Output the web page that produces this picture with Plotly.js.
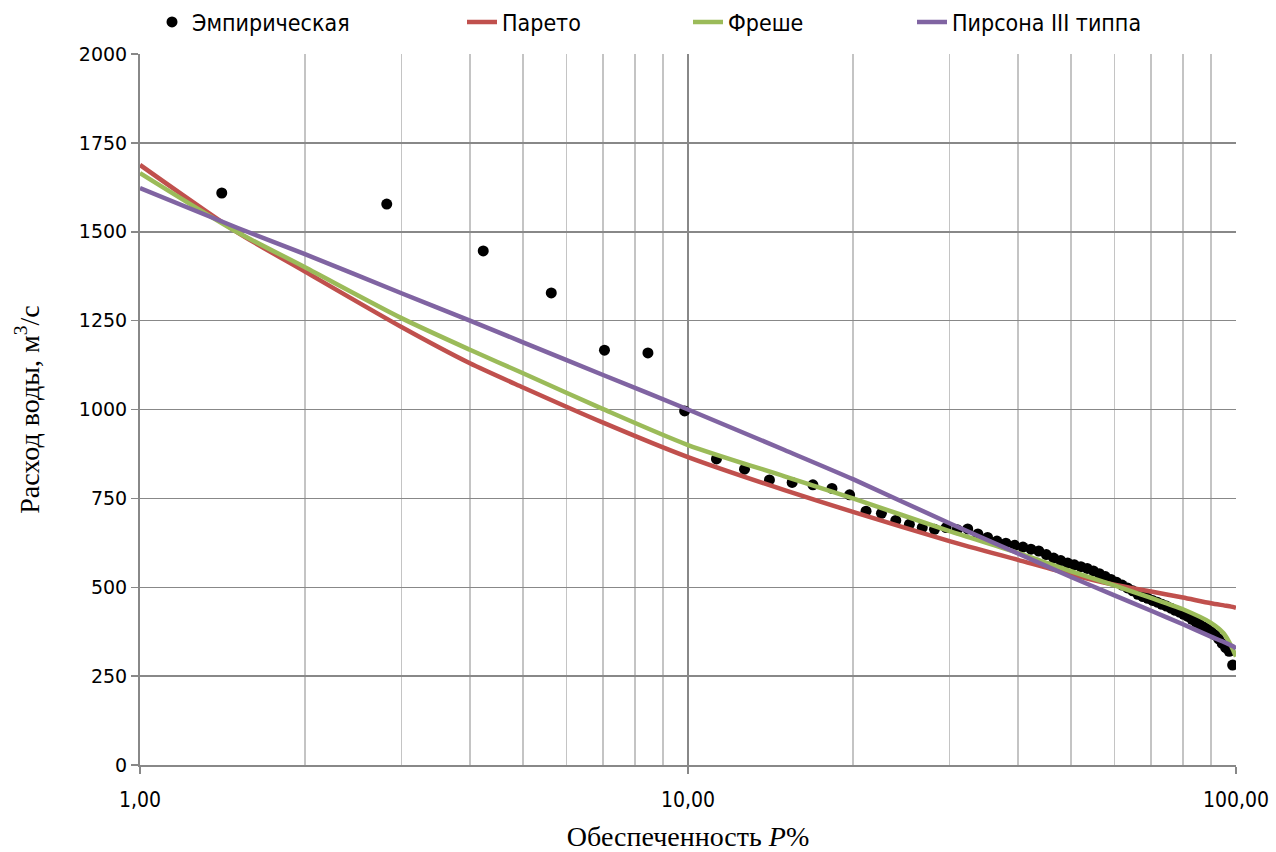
<!DOCTYPE html>
<html>
<head>
<meta charset="utf-8">
<script src="https://cdn.plot.ly/plotly-3.0.1.min.js"></script>
<style>html,body{margin:0;padding:0;background:#fff;}#chart{width:1276px;height:852px;}</style>
</head>
<body>
<div id="chart"></div>
<script>
// Empirical exceedance probability P% and discharge Q (m3/s)
const empP = [1.41,2.82,4.23,5.63,7.04,8.45,9.86,11.27,12.68,14.08,15.49,16.90,18.31,19.72,21.13,22.54,23.94,25.35,26.76,28.17,29.58,30.99,32.39,33.80,35.21,36.62,38.03,39.44,40.85,42.25,43.66,45.07,46.48,47.89,49.30,50.70,52.11,53.52,54.93,56.34,57.75,59.15,60.56,61.97,63.38,64.79,66.20,67.61,69.01,70.42,71.83,73.24,74.65,76.06,77.46,78.87,80.28,81.69,83.10,84.51,85.92,87.32,88.73,90.14,91.55,92.96,94.37,95.77,97.18,98.59];
const empQ = [1609,1578,1446,1328,1167,1159,996,861,832,802,795,788,778,760,714,708,688,677,668,663,668,662,664,650,640,630,624,618,613,607,602,592,582,575,568,563,558,553,546,538,530,522,514,506,498,490,480,474,469,463,458,452,447,441,435,430,424,418,410,402,395,388,382,375,366,355,342,330,320,281];

// Theoretical curves sampled at these P%
const curveP = [1,1.5,2,3,4,5,7,10,15,20,30,40,50,60,70,80,90,95,98,99,100];
const paretoQ  = [1688,1500,1388,1232,1130,1062,963,866,773,712,630,577,536,507,488,471,455,449,445.5,444,442];
const frechetQ = [1665,1500,1400,1257,1168,1102,1001,900,812,750,658,597,545,505,470,438,400,370,335,320,305];
const pearsonQ = [1623,1512,1437,1327,1250,1189,1097,1000,886,804,680,595,529,477,434,396,361,346,336,333,327];

const names = ['Эмпирическая','Парето','Фреше','Пирсона III типпа'];
const colors = ['#000000','#c0504d','#9bbb59','#8064a2'];

const traces = [
  {x: empP, y: empQ, mode:'markers', type:'scatter', name:names[0],
   marker:{color:colors[0], size:11}, legend:'legend'},
  {x: curveP, y: paretoQ, mode:'lines', type:'scatter', name:names[1],
   line:{color:colors[1], width:4.5, shape:'spline', smoothing:0.7}, legend:'legend2'},
  {x: curveP, y: frechetQ, mode:'lines', type:'scatter', name:names[2],
   line:{color:colors[2], width:4.5, shape:'spline', smoothing:0.7}, legend:'legend3'},
  {x: curveP, y: pearsonQ, mode:'lines', type:'scatter', name:names[3],
   line:{color:colors[3], width:4.5, shape:'spline', smoothing:0.7}, legend:'legend4'}
];

const legFont = {family:'DejaVu Sans Condensed, DejaVu Sans', size:23, color:'#000'};
function leg(xpx){
  return {x:xpx/1276, xref:'container', xanchor:'left', y:1-22/852, yref:'container', yanchor:'middle',
          orientation:'h', font:legFont, bgcolor:'rgba(0,0,0,0)', borderwidth:0};
}

const layout = {
  width:1276, height:852,
  margin:{l:140, r:40, t:54, b:87},
  paper_bgcolor:'#fff', plot_bgcolor:'#fff',
  showlegend:true,
  legend: leg(152), legend2: leg(462), legend3: leg(688), legend4: leg(912),
  xaxis:{
    type:'log', range:[0,2],
    tickmode:'array', tickvals:[1,10,100], ticktext:['1,00','10,00','100,00'],
    showgrid:true, gridcolor:'#888888', gridwidth:1.5,
    minor:{tickmode:'array', tickvals:[2,3,4,5,6,7,8,9,20,30,40,50,60,70,80,90],
           showgrid:true, gridcolor:'#c4c4c4', gridwidth:1.5, ticks:''},
    ticks:'outside', ticklen:7, tickcolor:'#888', tickwidth:1.5,
    ticklabelstandoff:8,
    showline:true, linecolor:'#888', linewidth:2,
    tickfont:{family:'DejaVu Sans Condensed, DejaVu Sans', size:21, color:'#000'},
    zeroline:false,
    title:{text:'Обеспеченность <i>P</i>%', standoff:24,
           font:{family:'Liberation Serif, Times New Roman, serif', size:28, color:'#000'}}
  },
  yaxis:{
    range:[0,2000], tickmode:'linear', tick0:0, dtick:250,
    showgrid:true, gridcolor:'#888888', gridwidth:1.5,
    ticks:'outside', ticklen:7, tickcolor:'#888', tickwidth:1.5,
    showline:true, linecolor:'#888', linewidth:2,
    tickfont:{family:'DejaVu Sans', size:19, color:'#000'},
    zeroline:false,
    title:{text:'Расход воды, м<sup>3</sup>/с', standoff:31,
           font:{family:'Liberation Serif, Times New Roman, serif', size:28, color:'#000'}}
  }
};

Plotly.newPlot('chart', traces, layout, {displayModeBar:false, staticPlot:true});
</script>
</body>
</html>
